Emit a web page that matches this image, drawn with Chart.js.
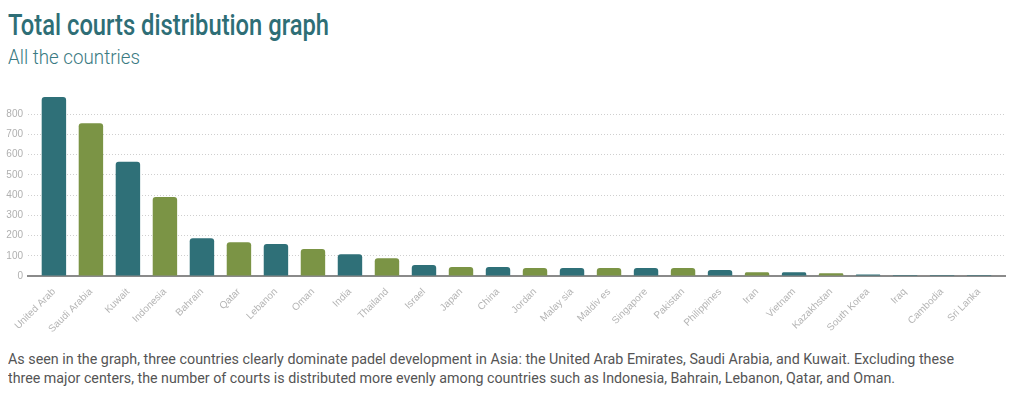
<!DOCTYPE html>
<html>
<head>
<meta charset="utf-8">
<script src="https://cdn.jsdelivr.net/npm/chart.js@4.4.1/dist/chart.umd.min.js"></script>
<style>
  html, body { margin: 0; padding: 0; background: #fff; }
  body { width: 1019px; height: 393px; position: relative; overflow: hidden; }
  .txt { position: absolute; left: 8px; font-family: Roboto, sans-serif; line-height: 1; white-space: nowrap; transform-origin: 0 0; }
  #title { top: 10px; font-size: 30px; font-weight: 500; color: #2e6e76; }
  #subtitle { top: 46.5px; font-size: 21px; font-weight: 300; color: #3a7a82; }
  .note { font-size: 15px; color: #555; }
  #note1 { top: 351.5px; }
  #note2 { top: 371px; }
  #chartBox { position: absolute; left: 0; top: 96px; width: 1019px; height: 240px; }
</style>
</head>
<body>
<div id="title" class="txt" data-w="321">Total courts distribution graph</div>
<div id="subtitle" class="txt" data-w="132">All the countries</div>
<div id="chartBox"><canvas id="courtsChart"></canvas></div>
<div id="note1" class="txt note" data-w="946">As seen in the graph, three countries clearly dominate padel development in Asia: the United Arab Emirates, Saudi Arabia, and Kuwait. Excluding these</div>
<div id="note2" class="txt note" data-w="887">three major centers, the number of courts is distributed more evenly among countries such as Indonesia, Bahrain, Lebanon, Qatar, and Oman.</div>

<script>
const countries = ['United Arab', 'Saudi Arabia', 'Kuwait', 'Indonesia', 'Bahrain', 'Qatar', 'Lebanon', 'Oman',
    'India', 'Thailand', 'Israel', 'Japan', 'China', 'Jordan', 'Malay sia', 'Maldiv es', 'Singapore', 'Pakistan',
    'Philippines', 'Iran', 'Vietnam', 'Kazakhstan', 'South Korea', 'Iraq', 'Cambodia', 'Sri Lanka'];
const courts = [885, 755, 565, 390, 187, 167, 158, 134, 107, 88, 54, 45, 45, 40, 40, 40, 40, 40,
    30, 18, 18, 13, 7, 5, 5, 5];
const yTicks = [0, 100, 200, 300, 400, 500, 600, 700, 800];

const teal = '#2f7078';
const olive = '#7b9445';
const barColors = countries.map((c, i) => (i % 2 === 0 || i > 21) ? teal : olive);

// squeeze text blocks to the condensed widths of the original
document.querySelectorAll('.txt').forEach(el => {
    const w = el.getBoundingClientRect().width;
    el.style.transform = 'scaleX(' + (el.dataset.w / w) + ')';
});

function noPad(s) {
    s.paddingTop = 0;
    s.paddingBottom = 0;
    s.paddingLeft = 0;
    s.paddingRight = 0;
}

const ctx = document.getElementById('courtsChart').getContext('2d');

const chart = new Chart(ctx, {
    type: 'bar',
    data: {
        datasets: [{
            label: 'Courts',
            data: courts.map((v, i) => ({ x: i, y: v })),
            backgroundColor: barColors,
            borderRadius: 3,
            barPercentage: 0.66,
            categoryPercentage: 1,
        }]
    },
    options: {
        responsive: true,
        maintainAspectRatio: false,
        animation: false,
        layout: { padding: { left: 0, right: 14, top: 0, bottom: 0 } },
        plugins: {
            legend: { display: false },
            tooltip: { enabled: false }
        },
        scales: {
            x: {
                type: 'linear',
                offset: false,
                min: -0.7,
                max: countries.length - 0.3,
                afterBuildTicks: s => { s.ticks = countries.map((c, i) => ({ value: i })); },
                afterFit: s => { s.height = 60; noPad(s); },
                grid: { display: false },
                border: { display: true, color: '#8a8a8a', width: 2 },
                ticks: {
                    autoSkip: false,
                    minRotation: 45,
                    maxRotation: 45,
                    padding: 2,
                    color: '#b4b4b4',
                    font: { family: 'Liberation Sans', size: 10 },
                    callback: v => countries[v] || ''
                }
            },
            y: {
                min: 0,
                max: 890,
                afterBuildTicks: s => { s.ticks = yTicks.map(v => ({ value: v })); },
                afterFit: s => { s.width = 28; noPad(s); },
                border: { display: false, dash: [1, 2] },
                grid: {
                    color: '#cfcfcf',
                    lineWidth: 1,
                    drawTicks: false
                },
                ticks: {
                    padding: 5,
                    color: '#b0b0b0',
                    font: { family: 'Liberation Sans', size: 10 }
                }
            }
        }
    }
});
</script>
</body>
</html>
